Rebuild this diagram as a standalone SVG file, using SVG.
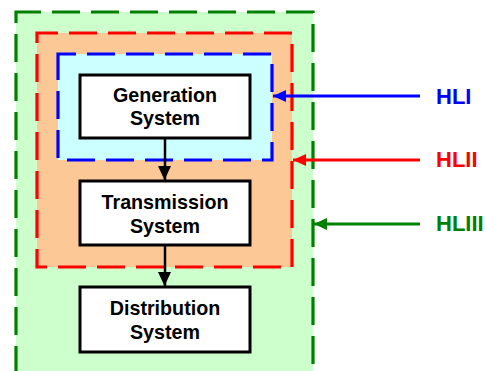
<svg xmlns="http://www.w3.org/2000/svg" width="487" height="371" viewBox="0 0 487 371">
<defs>
<style>
.box{fill:#ffffff;stroke:#000000;stroke-width:3}
.t{font-family:"Liberation Sans",Arial,sans-serif;font-weight:bold;font-size:19.7px;text-anchor:middle;fill:#000}
.hl{font-family:"Liberation Sans",Arial,sans-serif;font-weight:bold;font-size:22px}
.region{stroke-width:3.2;stroke-dasharray:28 11}
</style>
<marker id="ak" markerWidth="13" markerHeight="14" refX="7" refY="14" orient="0" markerUnits="userSpaceOnUse"><path d="M0,0 L13,0 L6.5,14 Z" fill="#000"/></marker>
<marker id="ab" markerWidth="13" markerHeight="12" refX="13" refY="6" orient="auto" markerUnits="userSpaceOnUse"><path d="M0,0 L13,6 L0,12 Z" fill="#0000ff"/></marker>
<marker id="ar" markerWidth="13" markerHeight="12" refX="13" refY="6" orient="auto" markerUnits="userSpaceOnUse"><path d="M0,0 L13,6 L0,12 Z" fill="#ff0000"/></marker>
<marker id="ag" markerWidth="13" markerHeight="12" refX="13" refY="6" orient="auto" markerUnits="userSpaceOnUse"><path d="M0,0 L13,6 L0,12 Z" fill="#008000"/></marker>
</defs>
<g id="hliii-region"><rect class="region" x="16" y="12" width="297" height="370" fill="#ccffcc" stroke="#008000" stroke-dashoffset="3"/></g>
<g id="hlii-region"><rect class="region" x="37" y="33" width="255" height="234" fill="#fcc996" stroke="#ff0000" stroke-dashoffset="7"/></g>
<g id="hli-region"><rect class="region" x="58" y="54" width="214" height="106" fill="#ccffff" stroke="#0000ff" stroke-dashoffset="10"/></g>
<g id="generation"><rect class="box" x="80" y="75" width="170" height="63"/><text class="t" x="165" y="102">Generation</text><text class="t" x="165" y="125">System</text></g>
<g id="transmission"><rect class="box" x="80" y="181" width="170" height="64"/><text class="t" x="165" y="209">Transmission</text><text class="t" x="165" y="233">System</text></g>
<g id="distribution"><rect class="box" x="80" y="287" width="170" height="65"/><text class="t" x="165" y="315">Distribution</text><text class="t" x="165" y="339">System</text></g>
<g id="connectors">
<line x1="165" y1="139" x2="165" y2="180" stroke="#000" stroke-width="2.5" marker-end="url(#ak)"/>
<line x1="165" y1="246" x2="165" y2="286" stroke="#000" stroke-width="2.5" marker-end="url(#ak)"/>
<line x1="420" y1="96" x2="273" y2="96" stroke="#0000ff" stroke-width="3" marker-end="url(#ab)"/>
<line x1="420" y1="160" x2="293" y2="160" stroke="#ff0000" stroke-width="3" marker-end="url(#ar)"/>
<line x1="420" y1="224" x2="314" y2="224" stroke="#008000" stroke-width="3" marker-end="url(#ag)"/>
</g>
<g id="labels">
<text class="hl" x="436" y="104" fill="#0000ff">HLI</text>
<text class="hl" x="436" y="167" fill="#ff0000">HLII</text>
<text class="hl" x="436" y="231" fill="#008000">HLIII</text>
</g>
</svg>
